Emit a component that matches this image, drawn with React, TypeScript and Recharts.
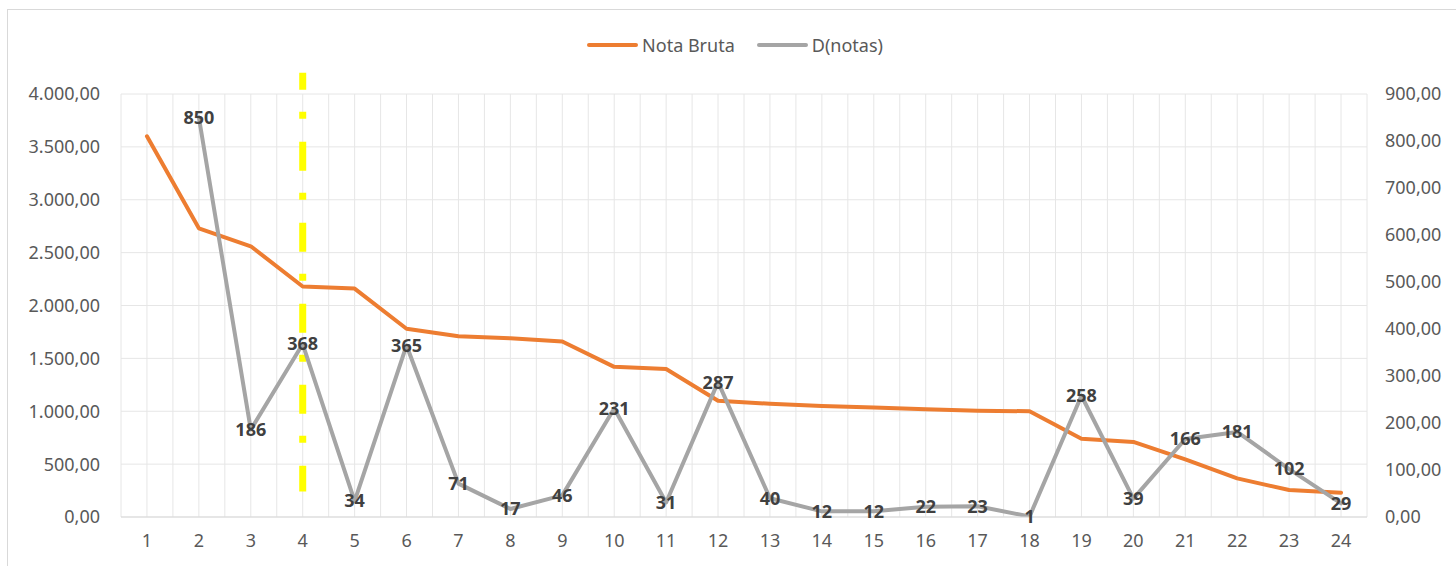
import React from 'react';
import { LineChart, Line, XAxis, YAxis, CartesianGrid, ReferenceLine, LabelList } from 'recharts';

const categories: string[] = ['1','2','3','4','5','6','7','8','9','10','11','12','13','14','15','16','17','18','19','20','21','22','23','24'];
const notaBruta: number[] = [3600, 2730, 2560, 2180, 2160, 1780, 1710, 1690, 1660, 1420, 1400, 1100, 1070, 1050, 1035, 1020, 1005, 1000, 740, 710, 545, 365, 255, 230];
const dNotas: (number | null)[] = [null, 850, 186, 368, 34, 365, 71, 17, 46, 231, 31, 287, 40, 12, 12, 22, 23, 1, 258, 39, 166, 181, 102, 29];
const leftTicks: number[] = [0, 500, 1000, 1500, 2000, 2500, 3000, 3500, 4000];
const rightTicks: number[] = [0, 100, 200, 300, 400, 500, 600, 700, 800, 900];
const seriesNames = { nota: 'Nota Bruta', d: 'D(notas)' };
const markerCategory = '4';
const markerRange: number[] = [4200, 240];

const data = categories.map((c, i) => ({ cat: c, nota: notaBruta[i], d: dNotas[i] }));

const ORANGE = '#ED7D31';
const GRAY = '#A5A5A5';
const FONT = '"Noto Sans", "Open Sans", sans-serif';

const fmt = (v: number) => {
  const [i, d] = v.toFixed(2).split('.');
  return i.replace(/\B(?=(\d{3})+(?!\d))/g, '.') + ',' + d;
};

const vGen = (props: any) => {
  const off = props.offset || {};
  const left = off.left ?? 0;
  const w = off.width ?? 0;
  const n = categories.length;
  const out: number[] = [];
  for (let k = 0; k <= 2 * n; k++) out.push(left + (k * w) / (2 * n));
  return out;
};

export default function App() {
  return (
    <div style={{ position: 'absolute', left: 0, top: 0, width: 1456, height: 566, overflow: 'hidden', background: '#fff', fontFamily: FONT }}>
      <div style={{ position: 'absolute', left: 7, top: 9, width: 1460, height: 600, border: '1px solid #d9d9d9', boxSizing: 'border-box' }} />
      <div style={{ position: 'absolute', left: 0, top: 32, width: 1456, height: 26, display: 'flex', justifyContent: 'center', alignItems: 'center', fontSize: 18, color: '#595959' }}>
        <div style={{ display: 'flex', alignItems: 'center', marginLeft: 14 }}>
          <div style={{ width: 51, height: 4, background: ORANGE, borderRadius: 2 }} />
          <span style={{ marginLeft: 4 }}>{seriesNames.nota}</span>
        </div>
        <div style={{ display: 'flex', alignItems: 'center', marginLeft: 22 }}>
          <div style={{ width: 51, height: 4, background: GRAY, borderRadius: 2 }} />
          <span style={{ marginLeft: 4 }}>{seriesNames.d}</span>
        </div>
      </div>
      <div style={{ position: 'absolute', left: 0, top: 0 }}>
        <LineChart width={1456} height={566} data={data} margin={{ top: 94, right: 0, bottom: 0, left: 0 }}>
          <CartesianGrid stroke="#e6e6e6" strokeWidth={1} verticalCoordinatesGenerator={vGen} yAxisId="left" />
          <XAxis dataKey="cat" scale="band" height={49} tickLine={false} tickSize={0} tickMargin={17}
            axisLine={{ stroke: '#d9d9d9' }} tick={{ fill: '#595959', fontSize: 18, fontFamily: FONT }} interval={0} />
          <YAxis yAxisId="left" domain={[0, 4000]} ticks={leftTicks} width={121} tickFormatter={fmt}
            axisLine={false} tickLine={false} tickSize={0} tickMargin={21} tick={{ fill: '#595959', fontSize: 18, fontFamily: FONT }} allowDataOverflow />
          <YAxis yAxisId="right" orientation="right" domain={[0, 900]} ticks={rightTicks} width={89} tickFormatter={fmt}
            axisLine={false} tickLine={false} tickSize={0} tickMargin={18} tick={{ fill: '#595959', fontSize: 18, fontFamily: FONT, textAnchor: 'start' }} allowDataOverflow />
          <Line yAxisId="left" dataKey="nota" name={seriesNames.nota} type="linear" stroke={ORANGE} strokeWidth={4}
            dot={false} isAnimationActive={false} strokeLinecap="round" strokeLinejoin="round" />
          <ReferenceLine yAxisId="left" ifOverflow="visible"
            segment={[{ x: markerCategory, y: markerRange[0] }, { x: markerCategory, y: markerRange[1] }]}
            stroke="#FFFF00" strokeWidth={7} strokeDasharray="29 22 7 23" strokeDashoffset={12} />
          <Line yAxisId="right" dataKey="d" name={seriesNames.d} type="linear" stroke={GRAY} strokeWidth={4}
            dot={false} isAnimationActive={false} strokeLinecap="round" strokeLinejoin="round">
            <LabelList dataKey="d" position="center" fill="#404040" fontSize={18} fontWeight="bold" fontFamily={FONT} />
          </Line>
        </LineChart>
      </div>
    </div>
  );
}
